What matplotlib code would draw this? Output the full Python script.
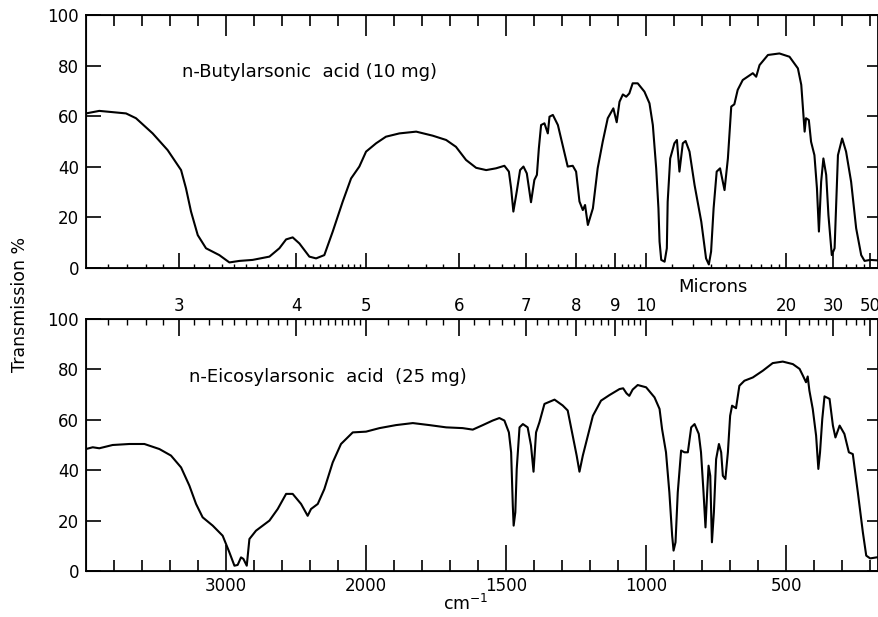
import numpy as np
import matplotlib
matplotlib.use("Agg")
from matplotlib import pyplot as plt
from matplotlib.ticker import FixedLocator, NullFormatter

plt.rcParams['font.family'] = ['DejaVu Sans']

# n-Butylarsonic acid (10 mg) - wavenumber cm-1 / transmission %
butyl_wn = [4000, 3905, 3714, 3643, 3524, 3417, 3321, 3286, 3250, 3202, 3143, 3048, 2976, 2905,
            2810, 2690, 2619, 2571, 2524, 2476, 2405, 2357, 2298, 2238, 2167, 2107, 2048, 2000,
            1964, 1929, 1881, 1821, 1762, 1714, 1679, 1643, 1607, 1571, 1536, 1506, 1490, 1482,
            1474, 1462, 1450, 1438, 1426, 1411, 1399, 1390, 1383, 1375, 1363, 1351, 1345, 1333,
            1315, 1298, 1280, 1262, 1250, 1238, 1226, 1218, 1208, 1190, 1173, 1155, 1137, 1117,
            1105, 1095, 1083, 1071, 1060, 1048, 1030, 1006, 988, 976, 964, 956, 952, 946, 934,
            926, 923, 914, 899, 890, 881, 869, 859, 845, 827, 803, 786, 776, 768, 759, 748, 736,
            720, 708, 696, 685, 673, 655, 619, 607, 595, 565, 524, 488, 458, 446, 440, 434, 429,
            419, 411, 399, 390, 383, 375, 367, 357, 349, 337, 327, 315, 300, 286, 268, 250, 232,
            220, 200, 172]
butyl_t = [61.1, 62.1, 61.1, 59.2, 53.2, 46.6, 38.7, 31.5, 22.3, 13.0, 7.8, 5.1, 2.2, 2.8,
           3.2, 4.5, 7.8, 11.3, 12.1, 9.7, 4.5, 3.8, 5.1, 14.4, 26.2, 35.4, 40.1, 46.0,
           49.3, 51.9, 53.2, 53.9, 52.3, 50.6, 47.9, 42.7, 39.6, 38.7, 39.4, 40.4, 38.1, 31.5,
           22.3, 30.2, 38.7, 40.1, 37.4, 26.0, 34.8, 36.8, 47.3, 56.5, 57.2, 53.2, 59.8, 60.5,
           56.5, 48.6, 40.1, 40.4, 38.1, 26.3, 22.9, 24.9, 17.0, 23.6, 39.4, 49.9, 59.2, 63.1,
           57.6, 65.7, 68.6, 67.7, 69.0, 73.0, 73.0, 69.7, 65.1, 56.5, 39.4, 23.6, 10.4, 3.2, 2.5,
           7.8, 26.2, 43.3, 49.3, 50.6, 38.1, 49.3, 50.2, 46.0, 32.8, 18.3, 3.8, 1.4, 6.5, 23.6,
           38.1, 39.4, 30.8, 43.3, 63.8, 64.7, 70.4, 74.3, 77.0, 75.6, 80.2, 84.2, 84.8, 83.5,
           78.9, 72.4, 63.1, 53.9, 59.2, 58.5, 49.9, 44.6, 31.5, 14.4, 34.1, 43.3, 36.8, 20.9,
           5.1, 7.8, 44.6, 51.2, 46.0, 34.1, 15.7, 5.1, 2.8, 3.2, 3.0]

# n-Eicosylarsonic acid (25 mg)
eicosyl_wn = [4000, 3952, 3905, 3810, 3690, 3583, 3476, 3393, 3321, 3262, 3214, 3167, 3095, 3024,
              2976, 2940, 2917, 2893, 2876, 2852, 2833, 2786, 2690, 2631, 2571, 2524, 2464, 2417,
              2393, 2345, 2298, 2238, 2179, 2095, 2000, 1952, 1893, 1833, 1774, 1714, 1655, 1619,
              1583, 1548, 1524, 1506, 1490, 1482, 1476, 1473, 1467, 1462, 1452, 1440, 1423, 1411,
              1402, 1393, 1381, 1363, 1327, 1298, 1280, 1262, 1248, 1238, 1226, 1208, 1190, 1161,
              1131, 1095, 1082, 1070, 1060, 1048, 1030, 1000, 970, 952, 943, 929, 917, 907, 902,
              895, 887, 875, 863, 851, 839, 827, 812, 804, 795, 788, 782, 777, 771, 765, 758, 750,
              740, 732, 726, 717, 708, 700, 693, 679, 667, 649, 619, 583, 548, 512, 476, 452, 440,
              429, 423, 417, 405, 393, 385, 379, 371, 363, 345, 333, 324, 309, 292, 276, 262, 244,
              226, 214, 200, 172]
eicosyl_t = [48.4, 49.1, 48.7, 50.0, 50.4, 50.4, 48.4, 45.8, 41.1, 33.9, 26.6, 21.3, 18.0, 14.0,
             7.4, 2.1, 2.4, 5.4, 4.8, 2.1, 12.7, 16.0, 20.0, 24.6, 30.6, 30.6, 26.6, 21.9,
             24.6, 26.6, 32.5, 43.1, 50.4, 55.0, 55.3, 56.7, 57.9, 58.7, 57.9, 57.0, 56.7, 56.1,
             57.9, 59.7, 60.7, 59.7, 55.0, 47.1, 25.9, 18.0, 23.3, 40.5, 57.0, 58.3, 57.0, 49.8,
             39.4, 55.0, 59.0, 66.3, 68.0, 65.7, 63.7, 53.7, 45.8, 39.4, 45.8, 53.7, 61.6, 67.6,
             69.8, 72.2, 72.5, 70.5, 69.5, 72.0, 73.8, 72.9, 68.9, 64.3, 56.3, 47.1, 31.2, 14.0, 8.1,
             11.4, 31.2, 47.8, 47.1, 47.1, 57.0, 58.3, 54.4, 47.1, 31.2, 17.3, 31.2, 41.8, 37.8,
             11.4, 23.3, 44.4, 50.4, 47.1, 37.8, 36.5, 47.1, 61.6, 65.6, 64.6, 73.5, 75.5, 76.8,
             79.5, 82.5, 83.1, 82.1, 80.2, 77.5, 74.9, 77.2, 71.6, 64.3, 53.7, 40.5, 47.1, 60.3,
             69.3, 68.3, 57.7, 53.0, 57.7, 54.4, 47.1, 46.4, 31.2, 15.3, 6.1, 5.0, 5.5]

wn_labels = [3000, 2000, 1500, 1000, 500]
micron_labels = [3, 4, 5, 6, 7, 8, 9, 10, 20, 30, 50]
y_ticks = [0, 20, 40, 60, 80, 100]


# grating change at 2000 cm-1: scale doubles below it
def fwd(w):
    w = np.asarray(w, dtype=float)
    return np.where(w >= 2000, w, 2 * w - 2000)


def inv(u):
    u = np.asarray(u, dtype=float)
    return np.where(u >= 2000, u, (u + 2000) / 2)


wn_minor = [w for w in range(3800, 2000, -200) if w != 3000] + \
           [w for w in range(1900, 199, -100) if w not in wn_labels]

mic_minor = list(np.arange(2.6, 4.96, 0.1)) + list(np.arange(5.2, 9.9, 0.2)) + \
            list(range(11, 20)) + [22, 24, 26, 28, 35, 40, 45]
mic_minor = [1e4 / m for m in mic_minor if round(m, 2) not in micron_labels]
mic_major = [1e4 / m for m in micron_labels]

fig = plt.figure(figsize=(8.79, 6.17), dpi=100)
ax1 = fig.add_axes([86 / 879, 1 - 268 / 617, 792 / 879, 253 / 617])
ax2 = fig.add_axes([86 / 879, 1 - 571 / 617, 792 / 879, 252 / 617])


def setup(ax):
    # ax carries one x tick set, its twin the other (and the right y ticks)
    ax.set_xscale('function', functions=(fwd, inv))
    ax.set_xlim(4000, 172)
    ax.set_ylim(0, 100)
    ax.set_yticks(y_ticks)
    ax.tick_params(axis='y', direction='in', length=11, width=1.2, labelsize=12, pad=5,
                   left=True, right=False, labelleft=True, labelright=False)
    for s in ax.spines.values():
        s.set_linewidth(1.3)

    tw = ax.twiny()
    tw.set_xscale('function', functions=(fwd, inv))
    tw.set_xlim(4000, 172)
    tw.yaxis.set_visible(True)
    tw.tick_params(axis='y', direction='in', length=8, width=1.2,
                   left=False, right=True, labelleft=False, labelright=False)
    return tw


tw1 = setup(ax1)
tw2 = setup(ax2)

# top panel: micron ticks on the bottom, wavenumber ticks on top, no labels
ax1.xaxis.set_major_locator(FixedLocator(mic_major))
ax1.xaxis.set_minor_locator(FixedLocator(mic_minor))
ax1.xaxis.set_major_formatter(NullFormatter())
ax1.xaxis.set_minor_formatter(NullFormatter())
ax1.tick_params(axis='x', which='major', direction='in', length=11, width=1.2)
ax1.tick_params(axis='x', which='minor', direction='in', length=3, width=1.0)

tw1.xaxis.set_major_locator(FixedLocator(wn_labels))
tw1.xaxis.set_minor_locator(FixedLocator(wn_minor))
tw1.xaxis.set_major_formatter(NullFormatter())
tw1.xaxis.set_minor_formatter(NullFormatter())
tw1.tick_params(axis='x', which='major', direction='in', length=15, width=1.2)
tw1.tick_params(axis='x', which='minor', direction='in', length=8, width=1.2)

# lower panel: wavenumber labels at bottom, micron labels on top
ax2.xaxis.set_major_locator(FixedLocator(wn_labels))
ax2.xaxis.set_minor_locator(FixedLocator(wn_minor))
ax2.set_xticklabels([str(w) for w in wn_labels])
ax2.xaxis.set_minor_formatter(NullFormatter())
ax2.tick_params(axis='x', which='major', direction='in', length=19, width=1.2,
                labelsize=12, pad=4)
ax2.tick_params(axis='x', which='minor', direction='in', length=8, width=1.2)

tw2.xaxis.set_major_locator(FixedLocator(mic_major))
tw2.xaxis.set_minor_locator(FixedLocator(mic_minor))
tw2.set_xticklabels([str(m) for m in micron_labels])
tw2.xaxis.set_minor_formatter(NullFormatter())
tw2.tick_params(axis='x', which='major', direction='in', length=12, width=1.2,
                labelsize=12, pad=3)
tw2.tick_params(axis='x', which='minor', direction='in', length=4, width=1.0)

ax1.plot(butyl_wn, butyl_t, color='black', lw=1.5)
ax2.plot(eicosyl_wn, eicosyl_t, color='black', lw=1.5)

ax1.text(3314, 77.5, 'n-Butylarsonic  acid (10 mg)', fontsize=13, va='center', ha='left')
ax2.text(3264, 77, 'n-Eicosylarsonic  acid  (25 mg)', fontsize=13, va='center', ha='left')

fig.text(713 / 879, 1 - 287 / 617, 'Microns', fontsize=13, ha='center', va='center')
fig.text(20 / 879, 1 - 304 / 617, 'Transmission %', fontsize=12.5, rotation=90,
         ha='center', va='center')
fig.text(466 / 879, 1 - 604 / 617, 'cm$^{-1}$', fontsize=12.5, ha='center', va='center')

plt.savefig('out.png', dpi=100)
